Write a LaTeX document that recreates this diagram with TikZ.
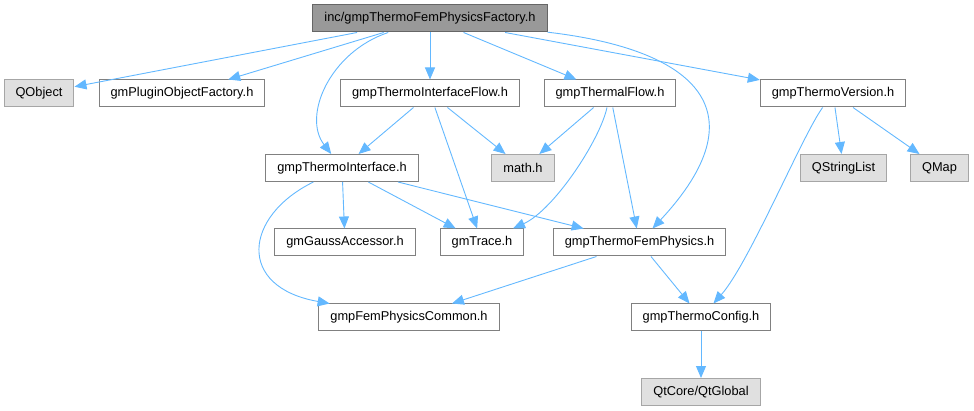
\documentclass[tikz,border=0pt]{standalone}
\usepackage{fontspec}
\setmainfont{Liberation Sans}
\usetikzlibrary{arrows.meta}
\definecolor{depblue}{HTML}{63B8FF}

\begin{document}
\begin{tikzpicture}[x=1pt, y=-1pt,
 box/.style={draw=black!50, line width=1pt, fill=white, inner xsep=11.5pt, inner ysep=0pt, minimum height=27pt, font=\fontsize{12.8}{14}\selectfont},
 sys/.style={box, fill=black!12, draw=black!35},
 cur/.style={box, fill=black!40, draw=black!60},
 dep/.style={draw=depblue, line width=0.9pt, -{Triangle[length=12pt,width=10pt]}}]
\useasboundingbox (0,0) rectangle (974,411);
% nodes, one row after the other
\node[cur] (root) at (430,18.5) {inc/gmpThermoFemPhysicsFactory.h};
\node[sys] (qobj) at (39,93.5) {QObject};
\node[box] (plug) at (182,93.5) {gmPluginObjectFactory.h};
\node[box] (iflow) at (430,93.5) {gmpThermoInterfaceFlow.h};
\node[box] (tflow) at (610,93.5) {gmpThermalFlow.h};
\node[box] (tver) at (833,93.5) {gmpThermoVersion.h};
\node[box] (tint) at (342,168) {gmpThermoInterface.h};
\node[sys] (math) at (523,168) {math.h};
\node[sys] (qsl) at (843.5,168) {QStringList};
\node[sys] (qmap) at (939.5,168) {QMap};
\node[box] (gauss) at (345,242.5) {gmGaussAccessor.h};
\node[box] (trace) at (482,242.5) {gmTrace.h};
\node[box] (fem) at (639.5,242.5) {gmpThermoFemPhysics.h};
\node[box] (common) at (409,317.5) {gmpFemPhysicsCommon.h};
\node[box] (conf) at (701,317.5) {gmpThermoConfig.h};
\node[sys] (qtg) at (701,392) {QtCore/QtGlobal};
% straight includes
\foreach \a/\b in {root/qobj, root/plug, root/iflow, root/tflow, root/tver,
 iflow/tint, iflow/math, iflow/trace, tflow/math, tflow/fem, tver/qsl, tver/qmap,
 tint/gauss, tint/trace, tint/fem, fem/common, fem/conf, conf/qtg}
 {\draw[dep] (\a) -- (\b);}
% bent includes
\draw[dep] (root) .. controls (330,52) and (302,116) .. (tint);
\draw[dep] (root) .. controls (700,50) and (760,113) .. (fem);
\draw[dep] (tflow) .. controls (600,140) and (554,210) .. (trace);
\draw[dep] (tver) .. controls (803,134) and (749,263.5) .. (conf);
\draw[dep] (tint) .. controls (244,216) and (236,287) .. (common);
\end{tikzpicture}
\end{document}
